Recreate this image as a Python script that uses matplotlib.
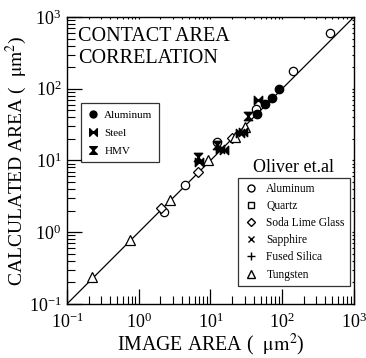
import numpy as np
import matplotlib
matplotlib.use("Agg")
import matplotlib.pyplot as plt
from matplotlib.path import Path
from matplotlib.lines import Line2D

plt.rcParams['font.family'] = ['Liberation Serif', 'DejaVu Serif']
plt.rcParams['mathtext.fontset'] = 'stix'

# present work (filled symbols)
al_x = [44, 57, 72, 89]
al_y = [45, 61, 75, 99]
steel_x = [6.9, 13.6, 15.5, 25.8, 28.7, 46]
steel_y = [9.6, 14.5, 14.0, 23.9, 25.2, 70]
hmv_x = [6.8, 12.4, 33.7]
hmv_y = [11.3, 16.4, 42]

# Oliver et.al (open symbols)
ol_al_x = [2.25, 4.4, 12.4, 43, 140, 463]
ol_al_y = [1.9, 4.6, 17.9, 53, 177, 593]
quartz_x, quartz_y = [], []
soda_x = [2.05, 6.8, 19.7]
soda_y = [2.15, 7.0, 20.5]
sapph_x, sapph_y = [], []
silica_x, silica_y = [], []
tung_x = [0.225, 0.76, 2.7, 9.3, 21.9, 30]
tung_y = [0.24, 0.77, 2.8, 10.2, 21.5, 29.5]

line_xy = [0.1, 1000]

# custom markers: sideways bowtie and hourglass
bowtie = Path([(-1, -1), (1, 1), (1, -1), (-1, 1), (-1, -1)],
              [Path.MOVETO, Path.LINETO, Path.LINETO, Path.LINETO, Path.CLOSEPOLY])
hourglass = Path([(-1, -1), (1, 1), (-1, 1), (1, -1), (-1, -1)],
                 [Path.MOVETO, Path.LINETO, Path.LINETO, Path.LINETO, Path.CLOSEPOLY])

fig = plt.figure(figsize=(3.66, 3.58), dpi=100)
ax = fig.add_axes([0.183, 0.151, 0.784, 0.8015])

ax.plot(line_xy, line_xy, color='black', lw=0.9, zorder=1)

ms = 6
ax.plot(ol_al_x, ol_al_y, 'o', mfc='white', mec='black', ms=ms, mew=0.9, ls='none')
ax.plot(quartz_x, quartz_y, 's', mfc='white', mec='black', ms=ms, ls='none')
ax.plot(soda_x, soda_y, 'D', mfc='white', mec='black', ms=5, mew=0.9, ls='none')
ax.plot(sapph_x, sapph_y, 'x', color='black', ms=ms, ls='none')
ax.plot(silica_x, silica_y, '+', color='black', ms=ms, ls='none')
ax.plot(tung_x, tung_y, '^', mfc='white', mec='black', ms=7, mew=0.9, ls='none')

ax.plot(al_x, al_y, 'o', color='black', ms=ms, ls='none')
ax.plot(steel_x, steel_y, marker=bowtie, color='black', ms=6, ls='none')
ax.plot(hmv_x, hmv_y, marker=hourglass, color='black', ms=6, ls='none')

ax.set_xscale('log')
ax.set_yscale('log')
ax.set_xlim(0.1, 1000)
ax.set_ylim(0.1, 1000)

ax.tick_params(which='major', direction='in', length=11, width=0.9, labelsize=13,
               top=True, right=True, pad=6)
ax.tick_params(which='minor', direction='in', length=6, width=0.8, top=True, right=True)
ax.tick_params(axis='both', which='both', labeltop=False, labelright=False)
ax.tick_params(axis='y', which='major', pad=4)
for t in ax.xaxis.get_major_ticks() + ax.yaxis.get_major_ticks():
    t.tick2line.set_markersize(1.5)
for t in ax.xaxis.get_minor_ticks() + ax.yaxis.get_minor_ticks():
    t.tick2line.set_markersize(1.5)
for s in ax.spines.values():
    s.set_linewidth(1.0)

ax.set_xlabel(r'IMAGE AREA (  $\mathrm{\mu m^2}$)', fontsize=14.3, labelpad=0)
ax.set_ylabel(r'CALCULATED AREA (  $\mathrm{\mu m^2}$)', fontsize=14, labelpad=0)

ax.text(0.04, 0.965, 'CONTACT AREA\nCORRELATION', transform=ax.transAxes,
        fontsize=14.5, va='top', ha='left', linespacing=1.2)

h1 = [Line2D([], [], marker='o', color='black', ls='none', ms=5),
      Line2D([], [], marker=bowtie, color='black', ls='none', ms=5.5),
      Line2D([], [], marker=hourglass, color='black', ls='none', ms=5.5)]
leg1 = ax.legend(h1, ['Aluminum', 'Steel', 'HMV'], loc='upper left',
                 bbox_to_anchor=(0.049, 0.70), borderaxespad=0, fontsize=8,
                 frameon=True, fancybox=False, edgecolor='black', handlelength=1.0,
                 handletextpad=0.5, borderpad=0.6, labelspacing=0.75)
leg1.get_frame().set_linewidth(0.9)
ax.add_artist(leg1)

h2 = [Line2D([], [], marker='o', mfc='white', mec='black', ls='none', ms=5),
      Line2D([], [], marker='s', mfc='white', mec='black', ls='none', ms=5),
      Line2D([], [], marker='D', mfc='white', mec='black', ls='none', ms=4),
      Line2D([], [], marker='x', color='black', ls='none', ms=5),
      Line2D([], [], marker='+', color='black', ls='none', ms=6),
      Line2D([], [], marker='^', mfc='white', mec='black', ls='none', ms=6)]
leg2 = ax.legend(h2, ['Aluminum', 'Quartz', 'Soda Lime Glass', 'Sapphire',
                      'Fused Silica', 'Tungsten'],
                 loc='lower right', bbox_to_anchor=(0.986, 0.063), borderaxespad=0,
                 fontsize=8.3, frameon=True, fancybox=False, edgecolor='black',
                 handlelength=1.3, handletextpad=0.7, borderpad=0.45, labelspacing=0.45)
leg2.get_frame().set_linewidth(0.9)

ax.text(0.79, 0.474, 'Oliver et.al', transform=ax.transAxes, fontsize=13,
        ha='center', va='center', zorder=10)

fig.savefig('out.png', dpi=100)
